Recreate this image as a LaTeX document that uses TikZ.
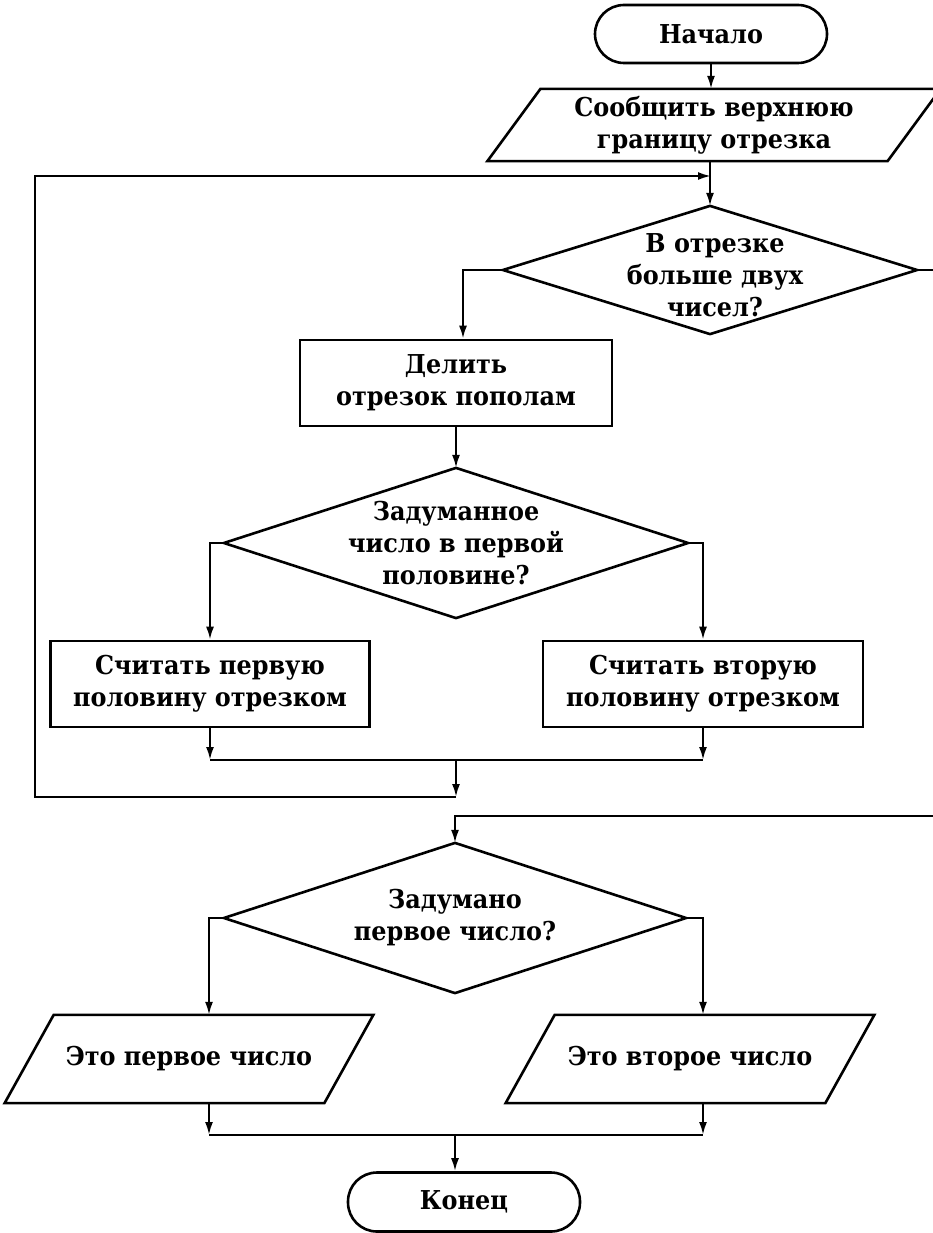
\documentclass[tikz,border=0pt]{standalone}
\usepackage{fontspec}
\setmainfont[FakeStretch=0.92]{DejaVu Serif}
\usetikzlibrary{arrows.meta}
\begin{document}
\begin{tikzpicture}[x=1pt,y=-1pt,line width=2.2pt,
  font=\bfseries\fontsize{26}{32}\selectfont,
  term/.style={draw,line width=2.6pt,rounded corners=29pt,minimum width=232pt,minimum height=58pt,inner sep=0pt,align=center},
  proc/.style={draw,line width=2.6pt,minimum height=86pt,inner sep=0pt,align=center},
  plain/.style={inner sep=0pt,align=center},
  arr/.style={-{Latex[length=13pt,width=8pt]}},
  outline/.style={line width=2.6pt,line join=miter}]
\useasboundingbox (0,0) rectangle (933,1233);
\clip (0,0) rectangle (933,1233);
\fill[white] (0,0) rectangle (933,1233);

% nodes
\node[term] (start) at (711,34) {Начало};
\node[plain,minimum width=398pt,minimum height=70pt] (inp) at (714,125) {Сообщить верхнюю\\границу отрезка};
\draw[outline] ([xshift=26.5pt]inp.north west) -- ([xshift=26.5pt]inp.north east) -- ([xshift=-26.5pt]inp.south east) -- ([xshift=-26.5pt]inp.south west) -- cycle;

\node[plain,minimum width=412pt,minimum height=126pt] (d1) at (710,270) {};
\draw[outline] (d1.north) -- (d1.east) -- (d1.south) -- (d1.west) -- cycle;
\node[plain] (d1t) at (715,275) {В отрезке\\больше двух\\чисел?};

\node[proc,minimum width=312pt] (div) at (456,383) {Делить\\отрезок пополам};

\node[plain,minimum width=462pt,minimum height=148pt] (d2) at (456,543) {Задуманное\\число в первой\\половине?};
\draw[outline] (d2.north) -- (d2.east) -- (d2.south) -- (d2.west) -- cycle;

\node[proc,minimum width=319pt] (c1) at (210,684) {Считать первую\\половину отрезком};
\node[proc,minimum width=320pt] (c2) at (703,684) {Считать вторую\\половину отрезком};

\node[plain,minimum width=460pt,minimum height=148pt] (d3) at (455,918) {Задумано\\первое число?};
\draw[outline] (d3.north) -- (d3.east) -- (d3.south) -- (d3.west) -- cycle;

\node[plain,minimum width=317.5pt,minimum height=86pt] (p1) at (189,1059) {Это первое число};
\draw[outline] ([xshift=24.5pt]p1.north west) -- ([xshift=24.5pt]p1.north east) -- ([xshift=-24.5pt]p1.south east) -- ([xshift=-24.5pt]p1.south west) -- cycle;
\node[plain,minimum width=317.5pt,minimum height=86pt] (p2) at (690,1059) {Это второе число};
\draw[outline] ([xshift=24.5pt]p2.north west) -- ([xshift=24.5pt]p2.north east) -- ([xshift=-24.5pt]p2.south east) -- ([xshift=-24.5pt]p2.south west) -- cycle;

\node[term,minimum height=59pt] (end) at (464,1202) {Конец};

% helper coordinates
\coordinate (lin) at (711,176);
\coordinate (lc2) at (35,176);
\coordinate (lc1) at (35,797);
\coordinate (j1) at (456,760);
\coordinate (j2) at (456,797);
\coordinate (r1) at (945,270);
\coordinate (r2) at (945,816);
\coordinate (j3) at (455,816);
\coordinate (divin) at ([xshift=7pt]div.north);
\coordinate (p1in) at ([xshift=20pt]p1.north);
\coordinate (p1out) at ([xshift=20pt]p1.south);
\coordinate (p2in) at ([xshift=13pt]p2.north);
\coordinate (p2out) at ([xshift=13pt]p2.south);
\coordinate (j4) at (455,1135);

% connectors
\draw[arr] (start.south) -- (start.south |- inp.north);
\draw[arr] (inp.south -| d1.north) -- (d1.north);
\draw[arr] (j2) -- (lc1) -- (lc2) -- (lin);
\draw (d1.east) -- (r1);
\draw[arr] (d1.west) -| (divin);
\draw[arr] (div.south) -- (div.south |- d2.north);
\draw[arr] (d2.west) -| (c1.north);
\draw[arr] (d2.east) -| (c2.north);
\draw[arr] (c1.south) -- (c1.south |- j1);
\draw[arr] (c2.south) -- (c2.south |- j1);
\draw (c1.south |- j1) -- (c2.south |- j1);
\draw[arr] (j1) -- (j2);
\draw[arr] (r2) -- (j3) -- (d3.north);
\draw[arr] (d3.west) -| (p1in);
\draw[arr] (d3.east) -| (p2in);
\draw[arr] (p1out) -- (p1out |- j4);
\draw[arr] (p2out) -- (p2out |- j4);
\draw (p1out |- j4) -- (p2out |- j4);
\draw[arr] (j4) -- (j4 |- end.north);
\end{tikzpicture}
\end{document}
